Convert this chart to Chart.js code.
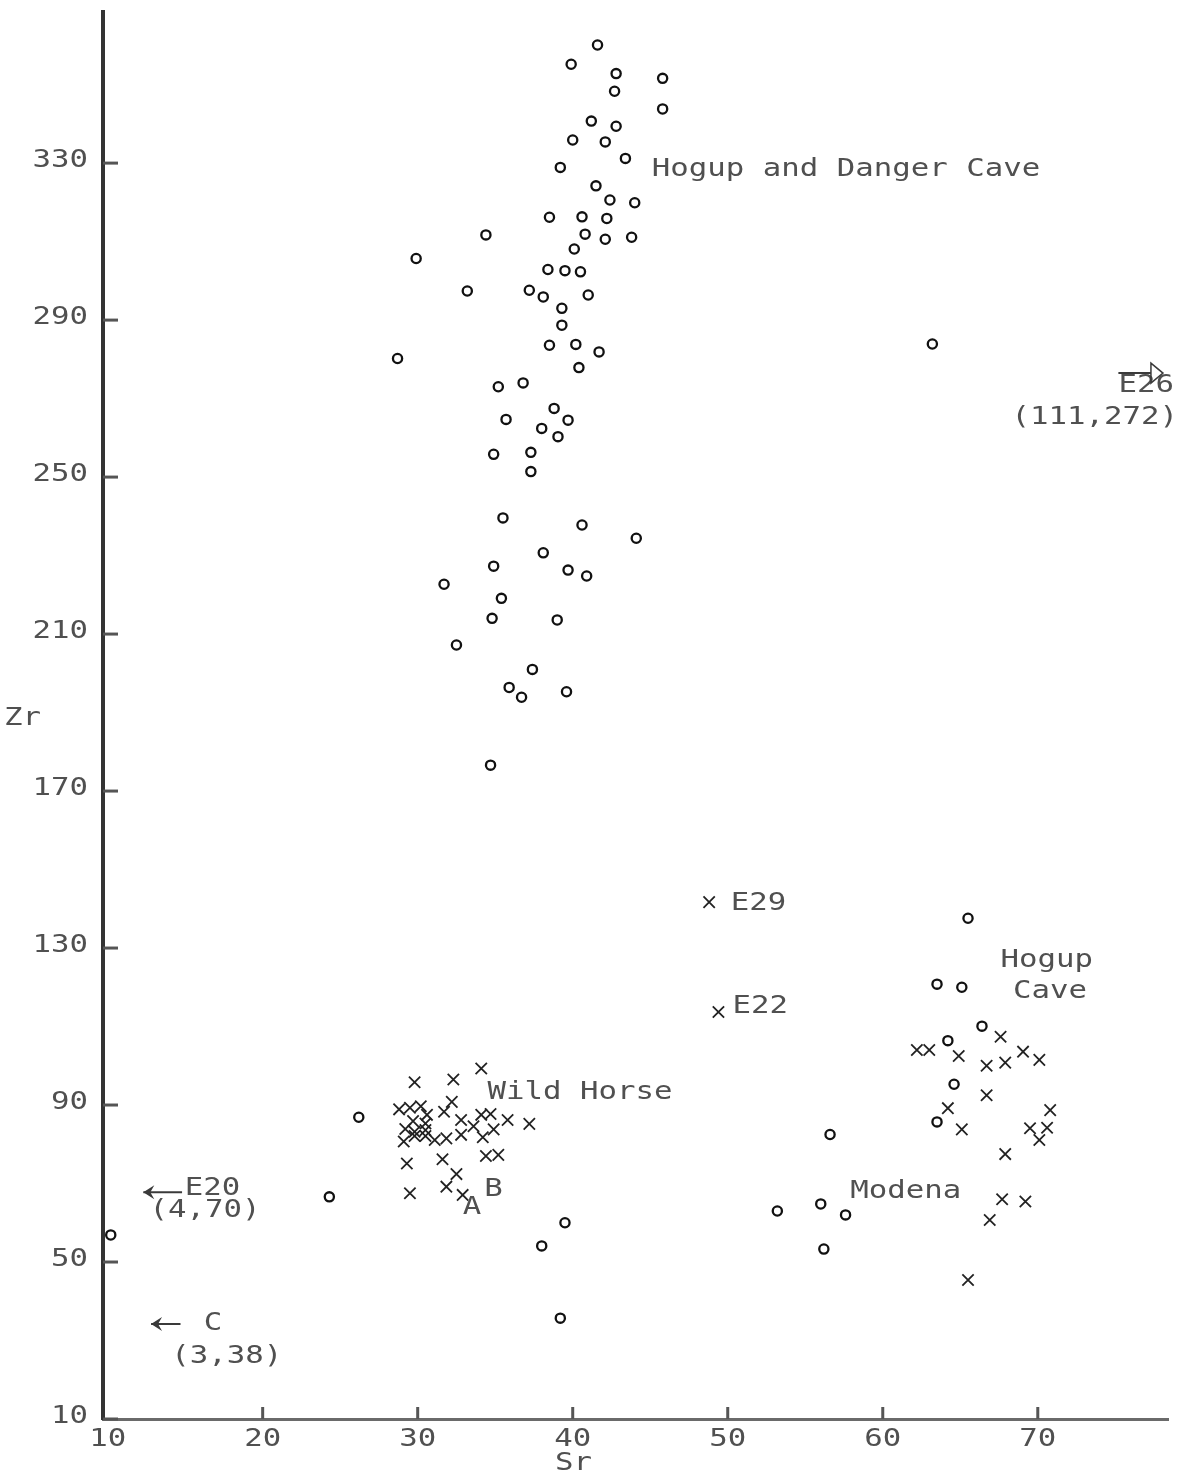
<!DOCTYPE html>
<html>
<head>
<meta charset="utf-8">
<script src="https://cdn.jsdelivr.net/npm/chart.js@4/dist/chart.umd.min.js"></script>
<style>
  html, body { margin: 0; padding: 0; background: #ffffff; }
  #wrap { width: 1181px; height: 1479px; }
</style>
</head>
<body>
<div id="wrap"><canvas id="c" width="1181" height="1479"></canvas></div>
<script>
// ---------------- DATA ----------------
const xTicks = [10, 20, 30, 40, 50, 60, 70];
const yTicks = [10, 50, 90, 130, 170, 210, 250, 290, 330];

// Hogup and Danger Cave (circles, upper cluster)
const hdcSr = [41.6, 39.9, 42.8, 45.8, 42.7, 45.8, 41.2, 42.8, 40.0, 42.1, 43.4, 39.2, 41.5, 42.4, 44.0,
  38.5, 40.6, 42.2, 34.4, 40.8, 42.1, 43.8, 40.1, 29.9, 38.4, 39.5, 40.5, 33.2, 37.2, 38.1, 41.0,
  39.3, 39.3, 38.5, 40.2, 41.7, 28.7, 40.4, 35.2, 36.8, 38.8, 35.7, 39.7, 38.0, 39.05, 34.9, 37.3,
  37.3, 35.5, 40.6, 44.1, 38.1, 34.9, 39.7, 40.9, 31.7, 35.4, 34.8, 39.0, 32.5, 37.4, 35.9, 36.7,
  39.6, 34.7, 63.2];
const hdcZr = [360.1, 355.2, 352.8, 351.6, 348.3, 343.8, 340.7, 339.4, 335.9, 335.4, 331.2, 328.9, 324.2, 320.6, 319.9,
  316.2, 316.3, 315.9, 311.7, 311.9, 310.6, 311.1, 308.1, 305.7, 302.9, 302.6, 302.3, 297.4, 297.6, 295.9, 296.4,
  293.0, 288.7, 283.6, 283.8, 281.9, 280.2, 277.9, 273.0, 274.0, 267.5, 264.7, 264.5, 262.4, 260.3, 255.8, 256.3,
  251.4, 239.6, 237.8, 234.4, 230.7, 227.3, 226.3, 224.8, 222.7, 219.1, 214.0, 213.6, 207.2, 201.0, 196.4, 193.9,
  195.3, 176.6, 283.9];

// Hogup Cave (lower right) circles and crosses
const hcCircSr = [65.5, 63.5, 65.1, 66.4, 64.2, 64.6, 63.5];
const hcCircZr = [137.6, 120.8, 120.0, 110.1, 106.4, 95.3, 85.7];
const hcCrossSr = [62.2, 63.0, 64.9, 67.6, 66.7, 67.9, 69.05, 70.1, 66.7, 64.2, 65.1, 70.8, 69.5, 70.6, 70.1,
  67.9, 67.7, 69.2, 66.9, 65.5];
const hcCrossZr = [104.0, 104.0, 102.5, 107.4, 100.0, 100.8, 103.6, 101.5, 92.5, 89.2, 83.8, 88.7, 84.1, 84.2, 81.1,
  77.5, 66.0, 65.4, 60.7, 45.4];

// Wild Horse crosses
const whCrossSr = [29.8, 32.3, 34.1, 37.2, 28.8, 29.5, 30.2, 30.6, 32.2, 31.7, 29.7, 29.2, 29.8, 30.5, 30.5,
  29.1, 29.8, 30.5, 31.1, 31.85, 32.8, 32.8, 33.6, 34.1, 34.7, 34.9, 34.2, 35.8, 34.4, 35.2,
  29.3, 31.6, 32.5, 31.85, 29.5, 32.9];
const whCrossZr = [95.8, 96.5, 99.3, 85.2, 88.9, 89.3, 89.7, 87.5, 90.8, 88.3, 85.9, 83.9, 83.2, 85.3, 83.6,
  80.7, 82.1, 82.1, 81.1, 81.5, 86.2, 82.4, 84.6, 87.5, 87.7, 83.8, 81.8, 86.2, 77.0, 77.3,
  75.1, 76.2, 72.4, 69.2, 67.5, 67.1];

// Other circles (lower left)
const llCircSr = [26.2, 24.3, 39.5, 38.0, 39.2, 10.2];
const llCircZr = [86.9, 66.6, 60.0, 54.1, 35.7, 56.9];

// Modena circles
const modSr = [56.6, 53.2, 56.0, 57.6, 56.2];
const modZr = [82.5, 63.0, 64.8, 62.0, 53.3];

// Single crosses E29, E22
const eCrossSr = [48.8, 49.4];
const eCrossZr = [141.7, 113.7];

// ---------------- helpers ----------------
function pts(xs, ys) { return xs.map((x, i) => ({ x: x, y: ys[i] })); }

const FONT = '24px "DejaVu Sans Mono", "Liberation Mono", monospace';
const SX = 1.28;              // horizontal stretch, typewriter look
const TEXT_COLOR = '#505050';

// annotations (anchor = left edge / vertical middle, in data units)
const notes = [
  { t: 'Hogup and Danger Cave', sr: 45.1, zr: 328.4 },
  { t: 'E26', sr: 75.2, zr: 273.2 },
  { t: '(111,272)', sr: 68.3, zr: 265.2 },
  { t: 'Hogup', sr: 67.6, zr: 126.7 },
  { t: 'Cave', sr: 68.4, zr: 118.8 },
  { t: 'Wild Horse', sr: 34.5, zr: 93.2 },
  { t: 'Modena', sr: 57.9, zr: 68.0 },
  { t: 'E29', sr: 50.2, zr: 141.3 },
  { t: 'E22', sr: 50.3, zr: 115.0 },
  { t: 'B', sr: 34.3, zr: 68.3 },
  { t: 'A', sr: 32.9, zr: 63.7 },
  { t: 'E20', sr: 14.97, zr: 68.6 },
  { t: '(4,70)', sr: 12.7, zr: 63.0 },
  { t: 'C', sr: 16.2, zr: 34.3 },
  { t: '(3,38)', sr: 14.1, zr: 25.8 }
];
const arrows = [
  { x1: 75.2, y1: 276.5, x2: 77.3, y2: 276.5, head: 'open' },
  { x1: 14.8, y1: 67.8, x2: 12.3, y2: 67.8, head: 'filled' },
  { x1: 14.7, y1: 34.2, x2: 12.8, y2: 34.2, head: 'filled' }
];

function drawText(ctx, s, x, y, align) {
  ctx.save();
  ctx.font = FONT;
  ctx.fillStyle = TEXT_COLOR;
  ctx.textBaseline = 'middle';
  ctx.textAlign = 'left';
  const w = ctx.measureText(s).width * SX;
  const x0 = align === 'right' ? x - w : (align === 'center' ? x - w / 2 : x);
  ctx.translate(x0, y);
  ctx.scale(SX, 1);
  ctx.fillText(s, 0, 0);
  ctx.restore();
}

const decorPlugin = {
  id: 'decor',
  beforeDatasetsDraw(chart) {
    const ctx = chart.ctx;
    const xs = chart.scales.x, ys = chart.scales.y;
    const a = chart.chartArea;
    ctx.save();
    ctx.strokeStyle = '#555';
    ctx.lineWidth = 3;
    ys.ticks.forEach(t => {
      const py = ys.getPixelForValue(t.value);
      ctx.beginPath();
      ctx.moveTo(a.left, py);
      ctx.lineTo(a.left + 15, py);
      ctx.stroke();
    });
    xs.ticks.forEach(t => {
      if (t.value === 10) return;
      const px = xs.getPixelForValue(t.value);
      ctx.beginPath();
      ctx.moveTo(px, a.bottom);
      ctx.lineTo(px, a.bottom - 12);
      ctx.stroke();
    });
    ctx.restore();
  },
  afterDraw(chart) {
    const ctx = chart.ctx;
    const xs = chart.scales.x, ys = chart.scales.y;
    const a = chart.chartArea;
    // tick labels (positions from the library scales)
    ys.ticks.forEach(t => drawText(ctx, String(t.value), a.left - 15, ys.getPixelForValue(t.value) - 2, 'right'));
    xs.ticks.forEach(t => drawText(ctx, String(t.value), xs.getPixelForValue(t.value), a.bottom + 21, 'center'));
    // annotations
    notes.forEach(n => drawText(ctx, n.t, xs.getPixelForValue(n.sr), ys.getPixelForValue(n.zr), 'left'));
    // axis titles
    drawText(ctx, 'Zr', 4, (a.top + a.bottom) / 2 + 3, 'left');
    drawText(ctx, 'Sr', 555, 1464, 'left');
    // arrows
    ctx.save();
    ctx.strokeStyle = '#3a3a3a';
    ctx.fillStyle = '#3a3a3a';
    arrows.forEach(r => {
      const x1 = xs.getPixelForValue(r.x1), y1 = ys.getPixelForValue(r.y1);
      const x2 = xs.getPixelForValue(r.x2), y2 = ys.getPixelForValue(r.y2);
      const dir = Math.sign(x2 - x1);
      ctx.lineWidth = 2;
      ctx.beginPath();
      ctx.moveTo(x1, y1);
      ctx.lineTo(x2, y2);
      ctx.stroke();
      if (r.head === 'open') {
        ctx.beginPath();
        ctx.moveTo(x2, y2 - 10);
        ctx.lineTo(x2 + dir * 12, y2);
        ctx.lineTo(x2, y2 + 10);
        ctx.closePath();
        ctx.lineWidth = 1.5;
        ctx.stroke();
      } else {
        ctx.beginPath();
        ctx.moveTo(x2 - dir * 11, y2 - 7);
        ctx.lineTo(x2, y2);
        ctx.lineTo(x2 - dir * 11, y2 + 7);
        ctx.lineTo(x2 - dir * 7, y2);
        ctx.closePath();
        ctx.fill();
      }
    });
    ctx.restore();
  }
};

const circleStyle = {
  pointStyle: 'circle', pointRadius: 4.6, pointBorderWidth: 2.3,
  pointBorderColor: '#111', pointBackgroundColor: '#fff', showLine: false
};
const crossStyle = {
  pointStyle: 'crossRot', pointRadius: 8, pointBorderWidth: 1.8,
  pointBorderColor: '#222', pointBackgroundColor: '#222', showLine: false
};

new Chart(document.getElementById('c'), {
  type: 'scatter',
  data: {
    datasets: [
      Object.assign({ label: 'Hogup and Danger Cave', data: pts(hdcSr, hdcZr) }, circleStyle),
      Object.assign({ label: 'Hogup Cave (o)', data: pts(hcCircSr, hcCircZr) }, circleStyle),
      Object.assign({ label: 'Hogup Cave (x)', data: pts(hcCrossSr, hcCrossZr) }, crossStyle),
      Object.assign({ label: 'Wild Horse (x)', data: pts(whCrossSr, whCrossZr) }, crossStyle),
      Object.assign({ label: 'Other (o)', data: pts(llCircSr, llCircZr) }, circleStyle),
      Object.assign({ label: 'Modena', data: pts(modSr, modZr) }, circleStyle),
      Object.assign({ label: 'E29, E22', data: pts(eCrossSr, eCrossZr) }, crossStyle)
    ]
  },
  options: {
    responsive: false,
    animation: false,
    devicePixelRatio: 1,
    events: [],
    layout: { padding: { left: 0, right: 13, top: 12, bottom: 0 } },
    plugins: { legend: { display: false }, tooltip: { enabled: false } },
    scales: {
      x: {
        type: 'linear', min: 9.7, max: 78.4,
        afterBuildTicks: s => { s.ticks = xTicks.map(v => ({ value: v })); },
        afterFit: s => { s.height = 60; s.paddingLeft = 0; s.paddingRight = 0; },
        grid: { display: true, drawOnChartArea: false, drawTicks: false },
        border: { display: true, color: '#6a6a6a', width: 3 },
        ticks: { display: false, autoSkip: false }
      },
      y: {
        type: 'linear', min: 10, max: 368.5,
        afterBuildTicks: s => { s.ticks = yTicks.map(v => ({ value: v })); },
        afterFit: s => { s.width = 103; s.paddingTop = 0; s.paddingBottom = 0; },
        grid: { display: true, drawOnChartArea: false, drawTicks: false },
        border: { display: true, color: '#333', width: 4 },
        ticks: { display: false, autoSkip: false }
      }
    }
  },
  plugins: [decorPlugin]
});
</script>
</body>
</html>
